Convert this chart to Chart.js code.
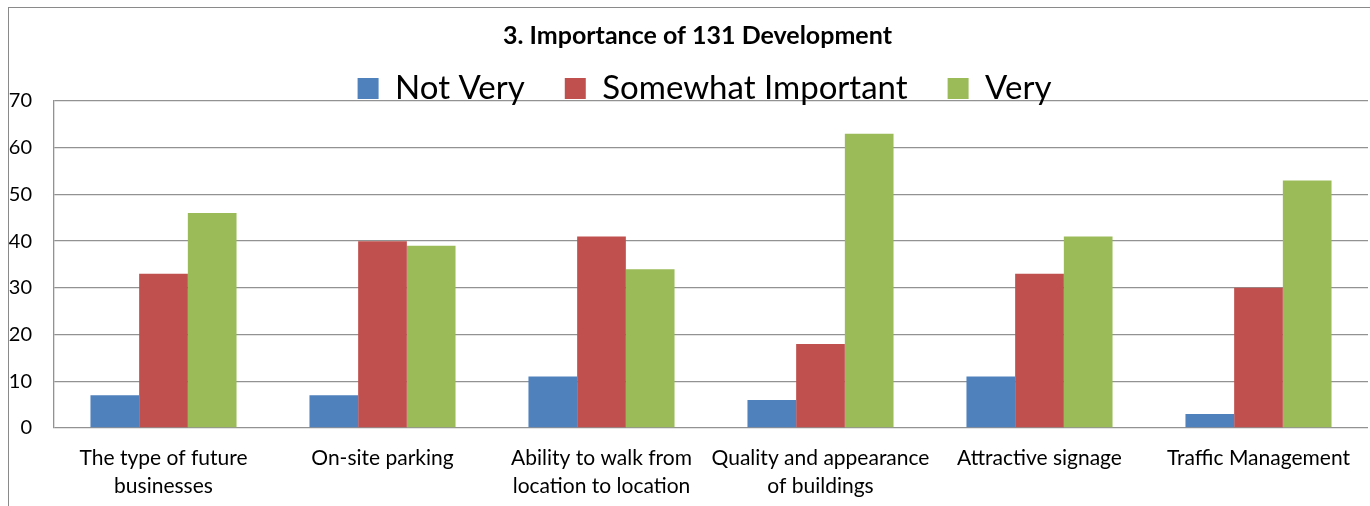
<!DOCTYPE html>
<html>
<head>
<meta charset="utf-8">
<script src="https://cdn.jsdelivr.net/npm/chart.js@4/dist/chart.umd.min.js"></script>
<style>
  html, body { margin: 0; padding: 0; background: #fff; overflow: hidden; }
  #frame {
    position: absolute; left: 8px; top: 7px;
    width: 1377px; height: 498px;
    border-left: 1px solid #8a8a8a; border-top: 1px solid #8a8a8a;
  }
  #frame canvas { display: block; }
</style>
</head>
<body>
<div id="frame"><canvas id="c" width="1377" height="498"></canvas></div>
<script>
// Survey answers per topic
const categories = [
  ['The type of future', 'businesses'],
  'On-site parking',
  ['Ability to walk from', 'location to location'],
  ['Quality and appearance', 'of buildings'],
  'Attractive signage',
  'Traffic Management'
];
const notVery = [7, 7, 11, 6, 11, 3];
const somewhatImportant = [33, 40, 41, 18, 33, 30];
const very = [46, 39, 34, 63, 41, 53];
const seriesNames = ['Not Very', 'Somewhat Important', 'Very'];
const yTicks = [0, 10, 20, 30, 40, 50, 60, 70];

const FONT = 'Lato, "Open Sans", sans-serif';
const GRID = '#929292';

// Legend sits across the top gridline: reserve little height, then let it draw over the plot
const legendTweak = {
  id: 'legendTweak',
  beforeInit(chart) {
    const lg = chart.legend;
    const fit = lg.fit;
    lg.fit = function () {
      fit.call(this);
      this.height = 50;
    };
  },
  afterLayout(chart) {
    const lg = chart.legend;
    const pad = lg.options.labels.padding;
    lg.top = 80 - pad - 16;
    lg.bottom = lg.top + pad * 2 + 40;
    lg.left += 16;
    lg.right += 16;
    const tb = chart.titleBlock;
    if (tb) { tb.left += 9; tb.right += 9; }
  }
};

new Chart(document.getElementById('c'), {
  type: 'bar',
  data: {
    labels: categories,
    datasets: [
      { label: seriesNames[0], data: notVery, backgroundColor: '#4F81BD' },
      { label: seriesNames[1], data: somewhatImportant, backgroundColor: '#C0504D' },
      { label: seriesNames[2], data: very, backgroundColor: '#9BBB59' }
    ]
  },
  options: {
    responsive: false,
    animation: false,
    events: [],
    layout: { padding: { left: 0, right: 18, top: 0, bottom: 0 } },
    datasets: { bar: { categoryPercentage: 0.667, barPercentage: 1.0 } },
    plugins: {
      title: {
        display: true,
        text: '3. Importance of 131 Development',
        color: '#000',
        font: { family: FONT, size: 25, weight: 'bold', lineHeight: 1.2 },
        padding: { top: 13, bottom: 0 }
      },
      legend: {
        display: true,
        position: 'top',
        labels: {
          color: '#000',
          font: { family: FONT, size: 33 },
          boxWidth: 21,
          boxHeight: 21,
          padding: 40
        }
      },
      tooltip: { enabled: false }
    },
    scales: {
      x: {
        grid: { display: false },
        border: { display: false },
        ticks: {
          color: '#000',
          font: { family: FONT, size: 21, lineHeight: 1.33 },
          padding: 8,
          maxRotation: 0,
          autoSkip: false
        },
        afterFit(scale) { scale.height = 78; }
      },
      y: {
        min: 0,
        max: 70,
        afterBuildTicks(scale) { scale.ticks = yTicks.map(v => ({ value: v })); },
        grid: { color: GRID, lineWidth: 1.3, drawTicks: false, tickLength: 0 },
        border: { display: true, color: GRID, width: 1.3 },
        ticks: {
          color: '#000',
          font: { family: FONT, size: 20 },
          padding: 22
        },
        afterFit(scale) { scale.width = 45; }
      }
    }
  },
  plugins: [legendTweak]
});
</script>
</body>
</html>
